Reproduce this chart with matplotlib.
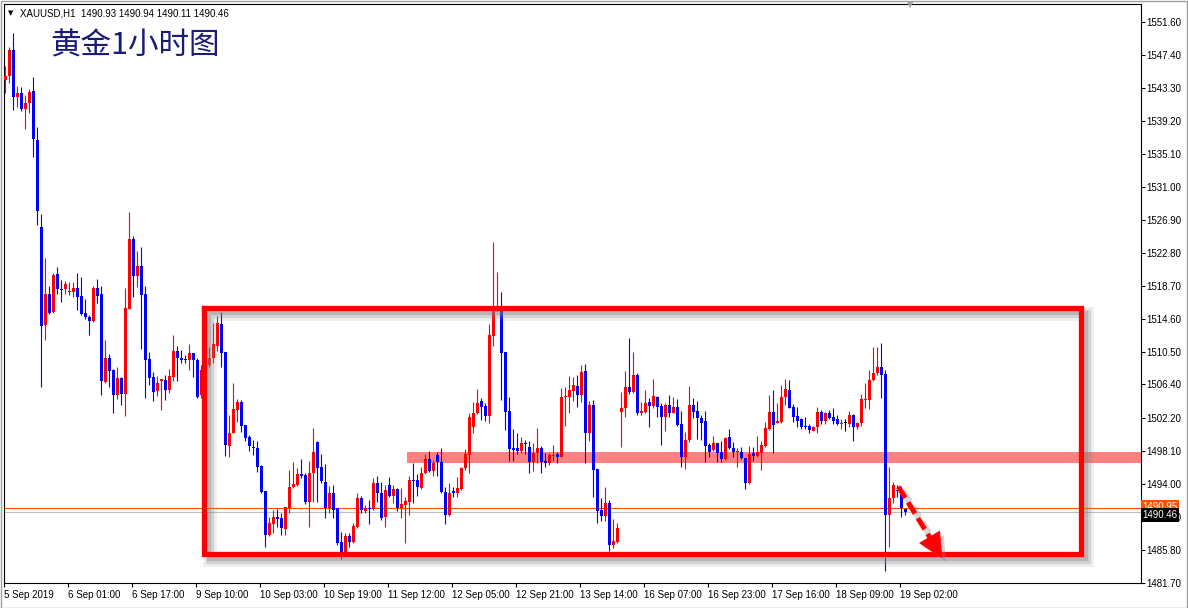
import matplotlib
matplotlib.use("Agg")
import matplotlib.pyplot as plt
import matplotlib.patheffects as pe
from matplotlib.lines import Line2D
from matplotlib.patches import Rectangle

# ---------------- data (XAUUSD H1) ----------------
opens = [1544.33, 1544.87, 1548.07, 1542.25, 1542.75, 1540.76, 1541.43, 1542.96, 1536.86, 1526.05,
         1513.81, 1517.67, 1515.42, 1520.16, 1518.33, 1518.25, 1517.92, 1517.92, 1518.42, 1517.42,
         1515.26, 1514.84, 1514.30, 1518.45, 1517.67, 1506.74, 1509.66, 1508.20, 1505.08, 1507.20,
         1505.21, 1515.84, 1524.52, 1519.91, 1521.16, 1517.67, 1509.53, 1507.29, 1505.62, 1506.83,
         1506.95, 1505.71, 1507.36, 1510.57, 1509.66, 1509.57, 1509.44, 1510.35, 1509.44, 1505.08,
         1508.20, 1508.82, 1509.66, 1511.23, 1513.93, 1510.40, 1498.77, 1500.39, 1503.21, 1504.25,
         1501.35, 1499.81, 1498.64, 1498.52, 1496.27, 1493.16, 1487.64, 1489.01, 1489.92, 1489.72,
         1488.42, 1490.97, 1493.58, 1493.87, 1495.24, 1495.12, 1491.79, 1495.40, 1499.19, 1496.08,
         1494.28, 1491.04, 1492.91, 1490.97, 1486.80, 1485.36, 1487.51, 1486.80, 1488.60, 1492.21,
         1490.67, 1490.97, 1490.84, 1494.08, 1492.91, 1489.85, 1493.87, 1492.50, 1493.33, 1490.97,
         1491.38, 1491.79, 1494.49, 1494.49, 1493.53, 1495.33, 1497.07, 1495.65, 1497.61, 1496.77,
         1493.03, 1490.13, 1493.16, 1492.84, 1493.37, 1495.95, 1497.61, 1501.06, 1502.80, 1504.37,
         1503.71, 1502.47, 1512.43, 1515.74, 1515.76, 1510.48, 1503.09, 1498.52, 1498.44, 1498.14,
         1499.07, 1498.57, 1496.77, 1497.89, 1498.44, 1496.90, 1496.57, 1497.48, 1497.73, 1497.32,
         1504.87, 1504.87, 1505.62, 1506.20, 1505.08, 1508.07, 1500.31, 1503.84, 1495.83, 1490.75,
         1490.01, 1491.66, 1486.39, 1486.80, 1503.00, 1503.43, 1506.12, 1505.49, 1507.58, 1502.80,
         1503.00, 1504.25, 1503.71, 1504.87, 1503.71, 1502.38, 1503.84, 1502.88, 1503.55, 1501.47,
         1497.40, 1499.48, 1503.84, 1503.09, 1502.18, 1501.84, 1498.85, 1498.23, 1499.07, 1497.94,
         1497.07, 1499.81, 1498.44, 1497.94, 1497.94, 1497.20, 1494.16, 1497.82, 1497.48, 1497.90,
         1498.73, 1500.85, 1503.00, 1501.63, 1501.76, 1504.80, 1505.71, 1503.63, 1502.47, 1502.05,
         1501.22, 1501.22, 1500.64, 1501.06, 1503.00, 1501.88, 1502.80, 1502.30, 1502.05, 1501.47,
         1501.56, 1501.47, 1502.59, 1501.06, 1501.63, 1504.46, 1504.46, 1506.95, 1507.79, 1508.54,
         1507.70, 1490.13, 1492.21, 1493.25, 1493.25, 1490.93]
highs = [1546.08, 1548.48, 1550.23, 1543.58, 1543.50, 1542.46, 1543.17, 1544.74, 1538.51, 1527.64,
         1522.15, 1518.66, 1520.25, 1521.00, 1519.41, 1519.32, 1519.16, 1519.16, 1520.25, 1519.75,
         1517.01, 1515.01, 1518.70, 1519.50, 1518.66, 1511.94, 1510.19, 1508.36, 1508.54, 1507.36,
         1518.38, 1527.85, 1524.93, 1523.03, 1523.49, 1518.66, 1510.48, 1507.99, 1507.45, 1507.08,
         1507.58, 1508.29, 1512.56, 1511.19, 1510.69, 1510.07, 1511.44, 1510.35, 1509.66, 1508.82,
         1509.69, 1511.10, 1514.02, 1514.93, 1515.43, 1510.40, 1502.59, 1506.54, 1504.55, 1504.46,
         1501.35, 1500.10, 1499.48, 1499.35, 1496.40, 1493.16, 1489.92, 1490.75, 1490.84, 1490.34,
         1491.13, 1495.74, 1496.77, 1495.95, 1497.07, 1495.40, 1496.90, 1500.97, 1499.35, 1497.73,
         1496.49, 1493.74, 1493.87, 1491.00, 1488.05, 1487.93, 1487.85, 1489.10, 1492.91, 1492.50,
         1491.38, 1492.00, 1494.70, 1494.99, 1494.28, 1493.87, 1494.91, 1493.87, 1493.46, 1493.46,
         1492.41, 1494.99, 1496.57, 1495.20, 1496.15, 1497.73, 1498.14, 1496.98, 1498.02, 1498.52,
         1493.66, 1494.16, 1493.66, 1494.83, 1496.15, 1498.32, 1502.80, 1504.25, 1505.79, 1504.67,
         1504.05, 1513.89, 1524.18, 1520.45, 1517.95, 1510.48, 1504.87, 1500.81, 1500.31, 1499.81,
         1499.48, 1499.39, 1499.07, 1500.93, 1498.73, 1497.89, 1497.89, 1498.85, 1498.02, 1505.92,
         1506.12, 1507.49, 1507.36, 1507.58, 1508.82, 1508.91, 1504.37, 1504.46, 1495.83, 1492.21,
         1493.66, 1492.00, 1489.60, 1489.10, 1505.49, 1508.11, 1512.15, 1510.48, 1507.79, 1504.25,
         1505.71, 1504.67, 1507.08, 1505.00, 1504.05, 1504.12, 1505.08, 1504.80, 1504.55, 1503.13,
         1500.51, 1506.20, 1504.67, 1504.37, 1502.59, 1503.13, 1499.14, 1499.98, 1499.14, 1499.35,
         1499.89, 1500.85, 1499.19, 1498.44, 1498.57, 1497.20, 1498.73, 1498.57, 1499.98, 1499.35,
         1501.76, 1505.08, 1505.71, 1504.12, 1506.33, 1507.04, 1506.95, 1503.96, 1503.55, 1502.18,
         1502.30, 1501.47, 1501.20, 1503.55, 1503.21, 1503.00, 1503.21, 1503.43, 1502.59, 1502.05,
         1502.09, 1503.09, 1502.72, 1501.76, 1505.21, 1506.62, 1508.20, 1511.10, 1511.10, 1511.60,
         1508.20, 1496.15, 1494.28, 1493.87, 1493.66, 1490.94]
lows = [1542.67, 1543.99, 1540.59, 1541.01, 1540.51, 1538.19, 1540.26, 1534.78, 1526.27, 1506.12,
        1511.94, 1515.18, 1515.34, 1517.67, 1516.71, 1517.67, 1517.51, 1517.33, 1515.67, 1515.01,
        1514.59, 1512.56, 1514.18, 1516.58, 1505.08, 1506.62, 1506.12, 1502.80, 1504.55, 1503.84,
        1502.50, 1515.76, 1517.33, 1518.58, 1510.78, 1504.75, 1506.33, 1504.37, 1504.96, 1503.21,
        1504.46, 1505.37, 1506.87, 1506.87, 1509.03, 1509.03, 1508.20, 1507.36, 1504.67, 1504.71,
        1507.95, 1508.61, 1509.03, 1510.60, 1508.61, 1497.48, 1497.40, 1500.31, 1501.76, 1500.47,
        1499.35, 1498.14, 1497.61, 1495.53, 1492.90, 1486.18, 1487.52, 1487.85, 1488.67, 1487.64,
        1487.64, 1490.34, 1493.46, 1493.74, 1494.70, 1491.50, 1488.67, 1491.79, 1491.79, 1494.08,
        1489.72, 1490.34, 1489.72, 1486.39, 1484.61, 1485.27, 1486.18, 1486.68, 1488.47, 1490.34,
        1490.34, 1489.01, 1490.75, 1491.79, 1489.51, 1488.67, 1492.34, 1491.59, 1490.67, 1489.72,
        1486.68, 1490.13, 1491.66, 1492.50, 1493.33, 1495.24, 1495.53, 1494.99, 1494.99, 1492.84,
        1489.01, 1490.00, 1492.34, 1492.41, 1493.25, 1495.74, 1495.40, 1500.31, 1502.72, 1501.97,
        1501.88, 1501.56, 1511.19, 1515.55, 1504.46, 1500.72, 1496.90, 1496.90, 1497.73, 1497.90,
        1497.73, 1495.33, 1495.65, 1496.65, 1495.40, 1496.07, 1496.36, 1496.90, 1496.57, 1497.32,
        1501.22, 1502.88, 1504.37, 1503.63, 1504.25, 1496.65, 1499.39, 1492.34, 1489.17, 1489.42,
        1489.42, 1485.68, 1486.00, 1486.60, 1498.64, 1502.38, 1505.21, 1505.30, 1502.59, 1502.59,
        1502.80, 1501.13, 1503.43, 1502.38, 1498.85, 1500.64, 1502.30, 1502.80, 1501.22, 1496.15,
        1495.83, 1499.27, 1502.18, 1499.56, 1499.48, 1496.77, 1497.32, 1498.14, 1496.77, 1496.77,
        1496.98, 1498.36, 1497.40, 1496.15, 1497.07, 1493.33, 1493.99, 1496.90, 1497.40, 1495.74,
        1498.64, 1500.72, 1497.82, 1501.56, 1501.56, 1503.84, 1503.43, 1501.76, 1501.13, 1500.81,
        1500.81, 1500.31, 1500.60, 1500.39, 1501.47, 1501.47, 1502.05, 1501.47, 1501.35, 1500.81,
        1500.64, 1501.06, 1499.39, 1500.85, 1501.22, 1503.43, 1503.34, 1506.87, 1507.58, 1504.67,
        1483.19, 1486.18, 1491.59, 1492.41, 1489.92, 1490.11]
closes = [1544.87, 1548.07, 1542.25, 1542.75, 1540.76, 1541.50, 1542.84, 1536.94, 1528.05, 1513.72,
          1517.67, 1515.34, 1520.04, 1518.25, 1518.17, 1518.91, 1518.08, 1518.42, 1517.33, 1515.18,
          1514.76, 1514.34, 1518.45, 1517.46, 1506.87, 1509.66, 1508.11, 1505.08, 1507.20, 1505.21,
          1515.89, 1524.52, 1519.91, 1521.16, 1517.54, 1509.44, 1507.24, 1505.49, 1506.62, 1507.08,
          1505.71, 1507.45, 1510.57, 1509.66, 1509.44, 1509.44, 1510.35, 1509.44, 1504.87, 1508.20,
          1509.07, 1509.66, 1511.44, 1514.09, 1510.28, 1498.85, 1500.31, 1503.34, 1504.25, 1501.22,
          1499.69, 1498.73, 1498.44, 1496.15, 1493.03, 1487.64, 1489.17, 1489.92, 1489.67, 1488.47,
          1491.09, 1493.66, 1493.99, 1495.24, 1495.03, 1491.79, 1495.33, 1497.98, 1495.95, 1494.41,
          1490.97, 1492.91, 1490.75, 1486.68, 1485.36, 1487.51, 1486.80, 1488.76, 1492.21, 1490.75,
          1490.97, 1490.84, 1494.16, 1492.84, 1489.72, 1493.25, 1492.50, 1493.33, 1490.97, 1491.50,
          1491.88, 1494.49, 1494.37, 1493.58, 1495.33, 1497.07, 1495.65, 1496.57, 1496.77, 1492.96,
          1490.13, 1492.91, 1492.84, 1493.46, 1495.95, 1497.73, 1502.30, 1502.88, 1504.12, 1503.63,
          1502.47, 1512.56, 1515.76, 1516.23, 1510.35, 1503.00, 1498.35, 1498.23, 1498.14, 1499.07,
          1498.94, 1496.77, 1497.89, 1498.44, 1496.77, 1496.57, 1497.61, 1497.61, 1497.40, 1504.87,
          1505.00, 1505.71, 1506.33, 1505.08, 1507.99, 1500.39, 1503.84, 1495.74, 1490.67, 1490.01,
          1491.66, 1486.39, 1486.89, 1488.55, 1503.43, 1506.12, 1505.49, 1507.58, 1502.80, 1503.09,
          1504.12, 1503.71, 1505.00, 1503.63, 1502.38, 1503.84, 1502.88, 1503.55, 1501.35, 1497.40,
          1499.48, 1503.84, 1503.00, 1502.18, 1501.63, 1498.73, 1498.02, 1499.07, 1497.89, 1497.07,
          1499.76, 1498.44, 1498.02, 1498.11, 1497.20, 1494.16, 1497.73, 1497.48, 1498.02, 1498.85,
          1501.01, 1503.00, 1501.35, 1501.88, 1504.87, 1505.79, 1503.50, 1502.38, 1501.88, 1501.13,
          1501.06, 1500.72, 1501.13, 1503.00, 1501.88, 1502.80, 1502.18, 1501.88, 1501.47, 1501.56,
          1501.56, 1502.59, 1501.06, 1501.56, 1504.55, 1504.55, 1506.95, 1507.79, 1508.54, 1507.58,
          1490.13, 1492.21, 1493.87, 1493.16, 1490.97, 1490.46]

tick_bars = [0, 16, 32, 48, 64, 80, 96, 112, 128, 144, 160, 176, 192, 208, 224]
tick_texts = ["5 Sep 2019", "6 Sep 01:00", "6 Sep 17:00", "9 Sep 10:00", "10 Sep 03:00",
              "10 Sep 19:00", "11 Sep 12:00", "12 Sep 05:00", "12 Sep 21:00", "13 Sep 14:00",
              "16 Sep 07:00", "16 Sep 23:00", "17 Sep 16:00", "18 Sep 09:00", "19 Sep 02:00"]
price_ticks = [1551.60, 1547.40, 1543.30, 1539.20, 1535.10, 1531.00, 1526.90, 1522.80, 1518.70,
               1514.60, 1510.50, 1506.40, 1502.20, 1498.10, 1494.00, 1489.90, 1485.80, 1481.70]

bid_price = 1490.46
hline_price = 1490.95
band_low, band_high, band_start = 1496.57, 1498.02, 100.4
box_left, box_right, box_bottom, box_top = 49.7, 268.9, 1485.27, 1515.92
arrow_start = (223.25, 1493.66)
arrow_base = (231.2, 1487.27)
arrow_tip = (234.2, 1484.77)

# ---------------- figure ----------------
W, H = 1188, 608
fig = plt.figure(figsize=(W / 100, H / 100), dpi=100)
fig.patch.set_facecolor("white")
ax = fig.add_axes([4 / W, (H - 583) / H, (1141 - 4) / W, (583 - 4) / H])
ax.set_facecolor("white")

xmin, xmax = -0.33, 283.9
ax.set_xlim(xmin, xmax)
ax.set_ylim(1481.66, 1553.80)

# pink support band
ax.axhspan(band_low, band_high, xmin=(band_start - xmin) / (xmax - xmin), xmax=1,
           color="#ff8080", lw=0, zorder=1)

# horizontal lines
ax.axhline(hline_price, color="#ff5000", lw=0.8, zorder=1.5)
ax.axhline(bid_price, color="#c0c0c0", lw=0.8, zorder=1.5)

# candles
xs = list(range(len(opens)))
cols = []
for o, c in zip(opens, closes):
    if c > o:
        cols.append("#ff0000")
    elif c < o:
        cols.append("#0000ff")
    else:
        cols.append("#000000")
ax.vlines(xs, lows, highs, colors=cols, lw=0.8, zorder=3)
bottoms = [min(o, c) for o, c in zip(opens, closes)]
heights = [max(abs(c - o), 0.13) for o, c in zip(opens, closes)]
ax.bar(xs, heights, bottom=bottoms, width=0.74, color=cols, lw=0, zorder=3.1)

# red rectangle with shadow
rect_line = Line2D([box_left, box_right, box_right, box_left, box_left],
                   [box_top, box_top, box_bottom, box_bottom, box_top],
                   color="#ff0000", lw=3.8, solid_joinstyle="miter", zorder=4)
rect_line.set_path_effects([
    pe.SimpleLineShadow(offset=(4.5, -4.5), shadow_color="#808080", alpha=0.12, linewidth=10),
    pe.SimpleLineShadow(offset=(4, -4), shadow_color="#808080", alpha=0.25, linewidth=6),
    pe.SimpleLineShadow(offset=(3.5, -3.5), shadow_color="#808080", alpha=0.35, linewidth=3),
    pe.Normal()])
ax.add_line(rect_line)

# dashed arrow
shaft = ax.annotate("", xy=arrow_base, xytext=arrow_start,
                    arrowprops=dict(arrowstyle="-", color="#ff0000", lw=3.6,
                                    linestyle=(0, (2.6, 1.1)), shrinkA=0, shrinkB=0,
                                    capstyle="butt"), zorder=5)
shaft.arrow_patch.set_path_effects([
    pe.SimpleLineShadow(offset=(3, -3), shadow_color="#808080", alpha=0.3, linewidth=5),
    pe.Normal()])
head = ax.annotate("", xy=arrow_tip, xytext=arrow_base,
                   arrowprops=dict(arrowstyle="-|>,head_length=0.85,head_width=0.42",
                                   color="#ff0000", lw=0.5, shrinkA=0, shrinkB=0,
                                   mutation_scale=20), zorder=5)
head.arrow_patch.set_path_effects([
    pe.SimplePatchShadow(offset=(3, -3), shadow_rgbFace="#808080", alpha=0.35),
    pe.Normal()])

# axes styling
for s in ax.spines.values():
    s.set_color("black")
    s.set_linewidth(0.8)
ax.yaxis.tick_right()
ax.set_yticks(price_ticks)
ax.set_yticklabels([f"{p:.2f}" for p in price_ticks])
ax.set_xticks([b - 0.33 for b in tick_bars])
ax.set_xticklabels(tick_texts, ha="left")
ax.tick_params(axis="both", direction="out", length=3, width=0.8, colors="black",
               labelsize=7, pad=2)
ax.tick_params(axis="y", pad=1)
for lab in ax.get_xticklabels() + ax.get_yticklabels():
    lab.set_fontfamily("Liberation Sans")

# price labels on the axis (the orange one sits partly under the bid label, as in MT4)
ax.text(1.0012, hline_price + 0.15, f"{hline_price:.2f}", transform=ax.get_yaxis_transform(),
        ha="left", va="center", fontsize=7, family="Liberation Sans", color="white",
        bbox=dict(boxstyle="square,pad=0.18", fc="#ff5000", ec="none"), zorder=6, clip_on=False)
ax.text(1.0012, bid_price - 0.3, f"{bid_price:.2f}", transform=ax.get_yaxis_transform(),
        ha="left", va="center", fontsize=7, family="Liberation Sans", color="white",
        bbox=dict(boxstyle="square,pad=0.18", fc="black", ec="none"), zorder=7, clip_on=False)

# header and title
fig.text(8 / W, 1 - 13 / H, "\u25BC", fontsize=5, color="black", va="center", ha="left",
         family="DejaVu Sans")
fig.text(20 / W, 1 - 13 / H, "XAUUSD,H1  1490.93 1490.94 1490.11 1490.46", fontsize=7,
         color="black", va="center", ha="left", family="Liberation Sans")
fig.text(50 / W, 1 - 46 / H, "黄金1小时图", fontsize=22, color="#1a1a78", va="center",
         ha="left", family=["Noto Sans CJK SC", "DejaVu Sans"])
fig.text(910 / W, 1 - 5 / H, "\u25BC", fontsize=6, color="#a0a0a0", va="center",
         ha="center", family="DejaVu Sans")

# window border
fig.patches.append(Rectangle((0.5 / W, 0.5 / H), 1 - 1.5 / W, 1 - 1.5 / H,
                             transform=fig.transFigure, fill=False, ec="#a0a0a0", lw=1))

fig.savefig("out.png", dpi=100)
